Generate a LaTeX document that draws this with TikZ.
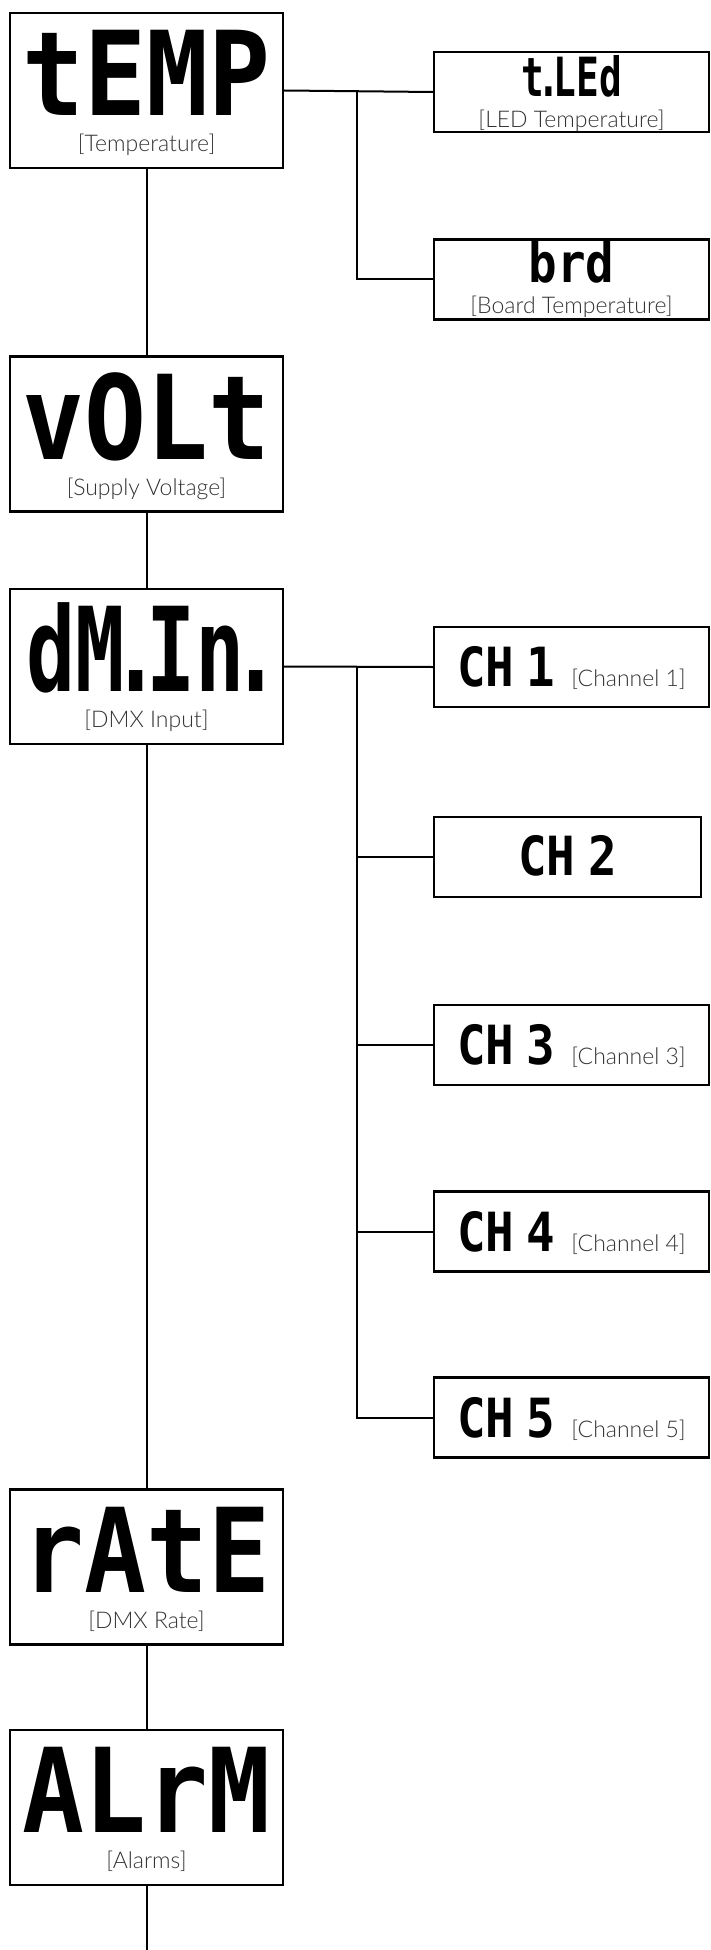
\documentclass[tikz,border=0pt]{standalone}
\usepackage{fontspec}
\usepackage{tikz}
\usetikzlibrary{positioning}
\newfontfamily\visorfont[FakeStretch=0.88]{DejaVu Sans Mono Bold}
\newfontfamily\estreitofont[FakeStretch=0.7]{DejaVu Sans Mono Bold}
\newfontfamily\legendafont{Lato Light}
\newcommand{\grandefont}{\visorfont\fontsize{117}{117}\selectfont}
\newcommand{\chfont}{\visorfont\fontsize{54}{54}\selectfont}
\newcommand{\lgfont}{\legendafont\fontsize{23}{23}\selectfont\color{black!80}}
\newcommand{\ponto}{\kern-.12em.\kern-.12em}
\tikzset{
	menu/.style={rectangle, minimum width=273pt, minimum height=155pt, inner sep=0pt, draw=black, line width=2.2pt},
	submenu/.style={rectangle, minimum width=275pt, minimum height=80pt, inner sep=0pt, draw=black, line width=2.2pt},
	visor/.style={anchor=base, inner sep=0pt, font=\grandefont},
	subvisor/.style={anchor=base, inner sep=0pt, font=\chfont},
	legenda/.style={anchor=base, inner sep=0pt, font=\lgfont},
	linha/.style={line width=2pt}
}

\begin{document}
\begin{tikzpicture}[x=1pt, y=-1pt]
		\useasboundingbox (0,0) rectangle (710,1950);
		
		% Caixas do menu principal
		\node[menu] (temp) at (146.5,90.5) {};
		\node[menu] (volt) at (146.5,434) {};
		\node[menu] (dmin) at (146.5,666.5) {};
		\node[menu] (rate) at (146.5,1567) {};
		\node[menu] (alrm) at (146.5,1807.5) {};
		
		% Textos do visor
		\node[visor] (temp-txt) at ([yshift=-104pt]temp.north) {tEMP};
		\node[visor] (volt-txt) at ([yshift=-104pt]volt.north) {vOLt};
		\node[visor, font=\estreitofont\fontsize{117}{117}\selectfont] (dmin-txt) at ([yshift=-104pt]dmin.north) {dM\ponto In\ponto};
		\node[visor] (rate-txt) at ([yshift=-104pt]rate.north) {rAtE};
		\node[visor] (alrm-txt) at ([yshift=-104pt]alrm.north) {ALrM};
		
		\node[legenda] (temp-lbl) at ([yshift=-140pt]temp.north) {[Temperature]};
		\node[legenda] (volt-lbl) at ([yshift=-140pt]volt.north) {[Supply Voltage]};
		\node[legenda] (dmin-lbl) at ([yshift=-140pt]dmin.north) {[DMX Input]};
		\node[legenda] (rate-lbl) at ([yshift=-140pt]rate.north) {[DMX Rate]};
		\node[legenda] (alrm-lbl) at ([yshift=-140pt]alrm.north) {[Alarms]};
		
		% Submenus
		\node[submenu] (tled) at (571.5,92) {};
		\node[submenu] (brd) at (571.5,279.5) {};
		\node[submenu] (ch1) at (571.5,667) {};
		\node[submenu, minimum width=267pt] (ch2) at (567.5,857) {};
		\node[submenu] (ch3) at (571.5,1045) {};
		\node[submenu] (ch4) at (571.5,1231.5) {};
		\node[submenu] (ch5) at (571.5,1417.5) {};
		
		\node[subvisor, font=\estreitofont\fontsize{54}{54}\selectfont] (tled-txt) at ([yshift=-46pt]tled.north) {t\ponto LEd};
		\node[legenda] (tled-lbl) at ([yshift=-77pt]tled.north) {[LED Temperature]};
		\node[subvisor] (brd-txt) at ([yshift=-44pt]brd.north) {brd};
		\node[legenda] (brd-lbl) at ([yshift=-75pt]brd.north) {[Board Temperature]};
		\node[subvisor] (ch1-txt) at ([yshift=-61pt]ch1.north) {CH\kern-.3em\ 1\hspace{16pt}{\lgfont{}[Channel 1]}};
		\node[subvisor] (ch2-txt) at ([yshift=-60pt]ch2.north) {CH\kern-.3em\ 2};
		\node[subvisor] (ch3-txt) at ([yshift=-61pt]ch3.north) {CH\kern-.3em\ 3\hspace{16pt}{\lgfont{}[Channel 3]}};
		\node[subvisor] (ch4-txt) at ([yshift=-61pt]ch4.north) {CH\kern-.3em\ 4\hspace{16pt}{\lgfont{}[Channel 4]}};
		\node[subvisor] (ch5-txt) at ([yshift=-61pt]ch5.north) {CH\kern-.3em\ 5\hspace{16pt}{\lgfont{}[Channel 5]}};
		
		% Pontos de ramificação
		\coordinate (ramo1) at (357,92);
		\coordinate (ramo2) at (357,667);
		\coordinate (fim) at (146.5,1950);
		
		% Ligações
		\draw[linha] (temp.south) -- (volt.north);
		\draw[linha] (volt.south) -- (dmin.north);
		\draw[linha] (dmin.south) -- (rate.north);
		\draw[linha] (rate.south) -- (alrm.north);
		\draw[linha] (alrm.south) -- (fim);
		
		\draw[linha] (temp.east) -- (tled.west);
		\draw[linha] (ramo1) |- (brd.west);
		\draw[linha] (dmin.east) -- (ch1.west);
		\draw[linha] (ramo2) |- (ch5.west);
		\draw[linha] (ramo2 |- ch2.west) -- (ch2.west);
		\draw[linha] (ramo2 |- ch3.west) -- (ch3.west);
		\draw[linha] (ramo2 |- ch4.west) -- (ch4.west);
		
	\end{tikzpicture}
\end{document}
